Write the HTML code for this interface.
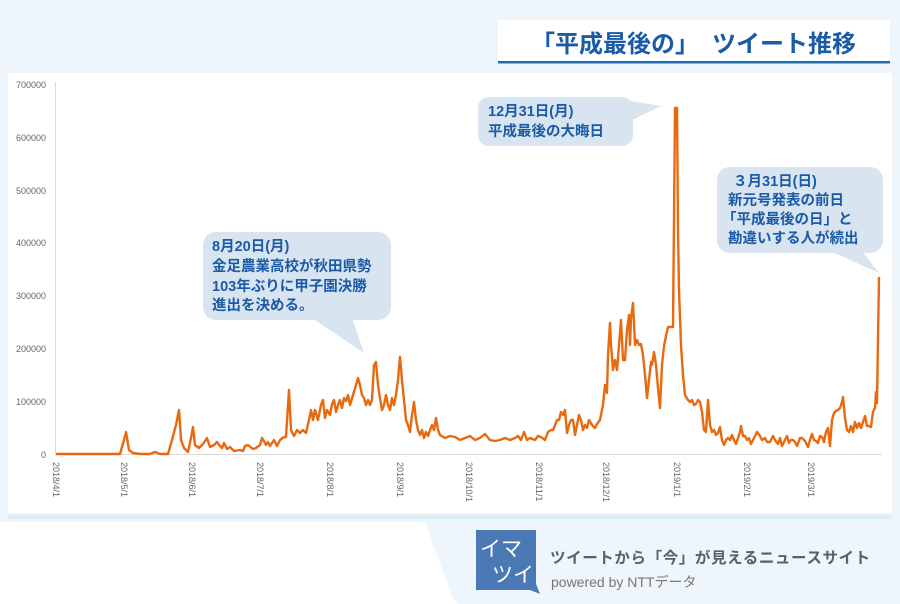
<!DOCTYPE html>
<html><head><meta charset="utf-8"><style>
html,body{margin:0;padding:0;}
body{width:900px;height:604px;overflow:hidden;background:#eef6fc;}
svg{display:block;}
.jp{font-family:"Liberation Sans","Noto Sans CJK JP",sans-serif;}
</style></head><body>
<svg width="900" height="604" viewBox="0 0 900 604" xmlns="http://www.w3.org/2000/svg" class="jp" font-family="Liberation Sans, Noto Sans CJK JP, sans-serif">
<rect x="0" y="0" width="900" height="604" fill="#eef6fc"/>
<path d="M0,522 L425,522 L452,596 Q455,604 462,604 L0,604 Z" fill="#ffffff"/>
<rect x="498" y="20" width="392" height="42" fill="#ffffff"/>
<rect x="498" y="61" width="392" height="2.5" fill="#1d6db5"/>
<text x="531" y="52" font-size="24" font-weight="bold" fill="#1a5aa6">「平成最後の」</text>
<text x="712" y="52" font-size="24" font-weight="bold" fill="#1a5aa6">ツイート推移</text>
<rect x="8" y="515" width="884" height="4" fill="#dbecf5"/>
<rect x="8" y="73" width="884" height="440" fill="#ffffff"/>
<line x1="55.5" y1="82" x2="55.5" y2="454" stroke="#d9d9d9" stroke-width="1"/>
<line x1="55" y1="454.5" x2="882" y2="454.5" stroke="#d9d9d9" stroke-width="1"/>
<g font-size="9" fill="#666" text-anchor="end">
<text x="46" y="88">700000</text><text x="46" y="141">600000</text><text x="46" y="194">500000</text>
<text x="46" y="246">400000</text><text x="46" y="299">300000</text><text x="46" y="352">200000</text>
<text x="46" y="405">100000</text><text x="46" y="458">0</text>
</g>
<g font-size="9" fill="#666">
<text transform="translate(53,462) rotate(90)">2018/4/1</text>
<text transform="translate(121,462) rotate(90)">2018/5/1</text>
<text transform="translate(189,462) rotate(90)">2018/6/1</text>
<text transform="translate(257,462) rotate(90)">2018/7/1</text>
<text transform="translate(327,462) rotate(90)">2018/8/1</text>
<text transform="translate(397,462) rotate(90)">2018/9/1</text>
<text transform="translate(466,462) rotate(90)">2018/10/1</text>
<text transform="translate(536,462) rotate(90)">2018/11/1</text>
<text transform="translate(603,462) rotate(90)">2018/12/1</text>
<text transform="translate(674,462) rotate(90)">2019/1/1</text>
<text transform="translate(744,462) rotate(90)">2019/2/1</text>
<text transform="translate(808,462) rotate(90)">2019/3/1</text>
</g>
<polyline fill="none" stroke="#e8690e" stroke-width="2.4" stroke-linejoin="round" points="
56,454 120,454 124,440 126,432 129,450 133,453 140,454 150,454 155,452 160,454 168,454 172,440 176,425 179,410 181,440 184,448 188,452 191,438 193,427 195,445 199,448 203,444 207,438 210,447 214,445 217,442 220,446 222,448 224,443 227,449 230,447 234,451 240,450 243,451 245,446 248,445 253,449 256,448 260,445 262,438 264,441 266,445 268,442 270,446 274,440 277,446 280,440 284,437 286,437 289,390 291,430 294,436 297,430 300,433 303,430 306,433 309,420 311,410 313,420 315,410 318,420 321,405 323,400 325,418 327,410 330,415 332,404 334,400 336,412 338,405 340,400 342,408 344,398 346,401 348,395 350,405 353,395 356,385 358,378 360,385 362,395 364,398 366,405 368,400 370,405 372,400 374,365 376,362 378,385 380,398 382,410 384,405 386,395 388,405 390,410 392,398 394,405 396,395 398,380 400,357 402,380 404,400 406,420 408,425 410,432 412,415 414,402 416,420 418,430 420,435 422,430 424,438 426,432 428,436 430,430 432,425 434,430 436,418 438,430 440,435 445,438 450,436 455,437 460,440 465,438 470,436 475,440 480,438 485,434 490,440 495,441 500,440 505,438 510,440 515,438 518,436 521,440 524,432 527,440 530,438 535,440 538,436 541,437 545,440 548,432 551,430 553,430 555,425 557,420 559,420 561,412 563,415 565,410 567,433 569,425 571,420 573,420 575,435 577,425 579,415 581,420 583,430 585,425 587,428 589,420 592,425 595,428 597,424 600,420 603,405 605,385 607,393 608,355 610,323 611,345 613,370 615,360 617,370 619,345 621,320 623,360 625,360 627,330 629,315 630,345 631,318 633,303 635,345 637,340 639,345 641,344 643,355 645,375 647,398 649,380 651,362 652,365 654,352 656,365 658,388 660,408 662,365 664,346 666,336 668,327 673,327 675,108 677,108 678,230 679,290 681,345 683,375 685,395 688,400 690,402 692,400 694,405 696,404 698,400 700,402 702,412 704,430 706,432 708,400 710,425 712,432 714,430 716,435 718,433 720,427 722,440 724,445 726,440 728,438 730,440 732,435 734,440 736,444 738,438 740,432 741,426 743,436 745,436 747,440 749,438 751,444 753,440 755,436 757,432 760,436 762,440 765,438 767,442 770,442 773,436 775,440 778,444 780,438 782,446 785,440 787,436 789,443 791,440 793,440 795,442 797,446 800,438 802,438 805,441 808,447 810,440 812,434 814,440 816,441 818,443 820,436 822,437 824,442 826,432 828,428 830,446 832,420 834,413 836,411 838,410 840,408 842,402 843,397 845,418 847,430 849,432 851,426 853,432 855,422 857,428 859,423 861,428 863,422 865,416 867,426 869,426 871,427 873,412 875,408 876,392 877,403 879,277"/>
<g fill="#d8e4f0">
<rect x="203" y="232" width="188" height="88" rx="13"/>
<path d="M312,318 L352,318 L364,353 Z"/>
<rect x="478" y="97" width="155" height="49" rx="11"/>
<path d="M630,101 L630,121 L661,106 Z"/>
<rect x="717" y="167" width="166" height="86" rx="13"/>
<path d="M830,251 L862,251 L879,273 Z"/>
</g>
<g font-size="14.5" font-weight="bold" fill="#1a5aa6">
<text x="212" y="251">8月20日(月)</text>
<text x="212" y="271">金足農業高校が秋田県勢</text>
<text x="212" y="291">103年ぶりに甲子園決勝</text>
<text x="212" y="310">進出を決める。</text>
<text x="488" y="116">12月31日(月)</text>
<text x="488" y="136">平成最後の大晦日</text>
<text x="733" y="186">３月31日(日)</text>
<text x="728" y="205">新元号発表の前日</text>
<text x="722" y="224">「平成最後の日」と</text>
<text x="728" y="243">勘違いする人が続出</text>
</g>
<rect x="476" y="530" width="60" height="60" fill="#4a79b6"/>
<path d="M530,590 L540,594 L536,584 Z" fill="#4a79b6"/>
<text x="480" y="556" font-size="21" fill="#ffffff">イマ</text>
<text x="492" y="582" font-size="21" fill="#ffffff">ツイ</text>
<text x="550" y="563" font-size="15.5" font-weight="bold" fill="#5a5f66" letter-spacing="0.6">ツイートから「今」が見えるニュースサイト</text>
<text x="551" y="587" font-size="14" fill="#777">powered by  NTTデータ</text>
</svg>
</body></html>
